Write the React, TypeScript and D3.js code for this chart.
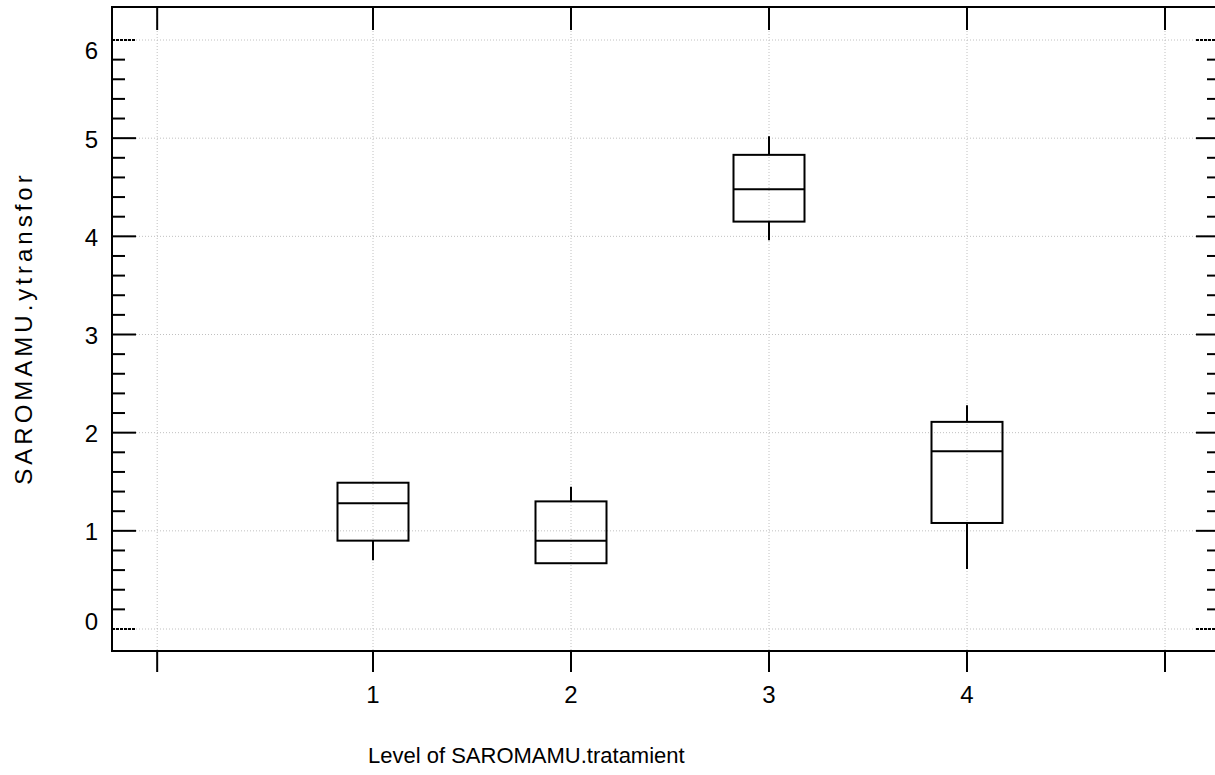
import React, { useRef, useEffect } from 'react';
import * as d3 from 'd3';

// box summary per level
const levels = [1, 2, 3, 4];
const mins = [0.70, 0.67, 3.96, 0.61];
const q1s = [0.90, 0.67, 4.15, 1.08];
const medians = [1.28, 0.90, 4.48, 1.81];
const q3s = [1.49, 1.30, 4.83, 2.11];
const maxs = [1.49, 1.45, 5.02, 2.28];

const xTickValues = [-0.09, 1, 2, 3, 4, 5];
const xTickLabels = ['', '1', '2', '3', '4', ''];
const yTickValues = [0, 1, 2, 3, 4, 5, 6];
const yMinorValues = d3.range(1, 30).map(i => i / 5).filter(v => Math.abs(v - Math.round(v)) > 1e-6);

const xTitle = 'Level of SAROMAMU.tratamient';
const yTitle = 'SAROMAMU.ytransfor';

const W = 1215;
const H = 775;
const FONT = '"Liberation Sans", Arial, Helvetica, sans-serif';

export default function App() {
  const svgRef = useRef<SVGSVGElement>(null);

  useEffect(() => {
    if (!svgRef.current) return;
    const svg = d3.select(svgRef.current);
    svg.selectAll('*').remove();

    const frame = { left: 112, top: 7, right: 1220, bottom: 651 };

    const xScale = d3.scaleLinear().domain([1, 4]).range([373, 967]);
    const yScale = d3.scaleLinear().domain([0, 6]).range([629, 40]);

    //grid lines
    const grid = svg.append('g');
    yTickValues.forEach(v => {
      grid.append('line')
        .attr('x1', frame.left).attr('x2', frame.right)
        .attr('y1', yScale(v)).attr('y2', yScale(v))
        .attr('stroke', '#c0c0c0').attr('stroke-width', 1)
        .attr('stroke-dasharray', '1,2');
    });
    xTickValues.forEach(v => {
      grid.append('line')
        .attr('x1', xScale(v)).attr('x2', xScale(v))
        .attr('y1', frame.top).attr('y2', frame.bottom)
        .attr('stroke', '#c0c0c0').attr('stroke-width', 1)
        .attr('stroke-dasharray', '1,2');
    });

    //frame
    svg.append('rect')
      .attr('x', frame.left).attr('y', frame.top)
      .attr('width', frame.right - frame.left).attr('height', frame.bottom - frame.top)
      .attr('fill', 'none').attr('stroke', '#000').attr('stroke-width', 2);

    //x ticks top (inward) and bottom (outward)
    const ticks = svg.append('g').attr('stroke', '#000').attr('stroke-width', 2);
    xTickValues.forEach(v => {
      ticks.append('line')
        .attr('x1', xScale(v)).attr('x2', xScale(v))
        .attr('y1', frame.top).attr('y2', frame.top + 23);
      ticks.append('line')
        .attr('x1', xScale(v)).attr('x2', xScale(v))
        .attr('y1', frame.bottom).attr('y2', frame.bottom + 21);
    });

    //y ticks left and right (inward)
    yTickValues.forEach(v => {
      const dash = v === 0 || v === 6 ? '3,1' : null;
      ticks.append('line')
        .attr('x1', frame.left).attr('x2', frame.left + 24)
        .attr('y1', yScale(v)).attr('y2', yScale(v))
        .attr('stroke-dasharray', dash);
      ticks.append('line')
        .attr('x1', frame.right - 24).attr('x2', frame.right)
        .attr('y1', yScale(v)).attr('y2', yScale(v))
        .attr('stroke-dasharray', dash);
    });
    yMinorValues.forEach(v => {
      ticks.append('line')
        .attr('x1', frame.left).attr('x2', frame.left + 13)
        .attr('y1', yScale(v)).attr('y2', yScale(v));
      ticks.append('line')
        .attr('x1', frame.right - 13).attr('x2', frame.right)
        .attr('y1', yScale(v)).attr('y2', yScale(v));
    });

    //tick labels, end labels nudged inward
    const yMin = d3.min(yTickValues)!;
    const yMax = d3.max(yTickValues)!;
    svg.append('g').selectAll('text')
      .data(yTickValues)
      .join('text')
      .attr('x', 98)
      .attr('y', d => yScale(d) + (d === yMax ? 10 : d === yMin ? -8 : 1))
      .attr('dy', '0.36em')
      .attr('text-anchor', 'end')
      .attr('font-family', FONT)
      .attr('font-size', 24)
      .text(d => String(d));

    svg.append('g').selectAll('text')
      .data(xTickValues)
      .join('text')
      .attr('x', d => xScale(d))
      .attr('y', 703)
      .attr('text-anchor', 'middle')
      .attr('font-family', FONT)
      .attr('font-size', 24)
      .text((_, i) => xTickLabels[i]);

    //boxes
    const halfW = 35.5;
    const boxes = svg.append('g').attr('stroke', '#000').attr('stroke-width', 2).attr('fill', 'none');
    levels.forEach((lv, i) => {
      const cx = xScale(lv);
      boxes.append('line')
        .attr('x1', cx).attr('x2', cx)
        .attr('y1', yScale(q3s[i])).attr('y2', yScale(maxs[i]));
      boxes.append('line')
        .attr('x1', cx).attr('x2', cx)
        .attr('y1', yScale(q1s[i])).attr('y2', yScale(mins[i]));
      boxes.append('rect')
        .attr('x', cx - halfW).attr('width', halfW * 2)
        .attr('y', yScale(q3s[i]))
        .attr('height', yScale(q1s[i]) - yScale(q3s[i]));
      boxes.append('line')
        .attr('x1', cx - halfW).attr('x2', cx + halfW)
        .attr('y1', yScale(medians[i])).attr('y2', yScale(medians[i]));
    });

    //axis titles
    svg.append('text')
      .attr('x', 368).attr('y', 763)
      .attr('font-family', FONT).attr('font-size', 22)
      .text(xTitle);

    svg.append('text')
      .attr('transform', 'translate(32, 328) rotate(-90)')
      .attr('text-anchor', 'middle')
      .attr('font-family', FONT).attr('font-size', 24)
      .attr('letter-spacing', 4)
      .text(yTitle);
  }, []);

  return (
    <svg ref={svgRef} width={W} height={H}
      style={{ position: 'absolute', left: 0, top: 0, background: '#fff' }} />
  );
}
